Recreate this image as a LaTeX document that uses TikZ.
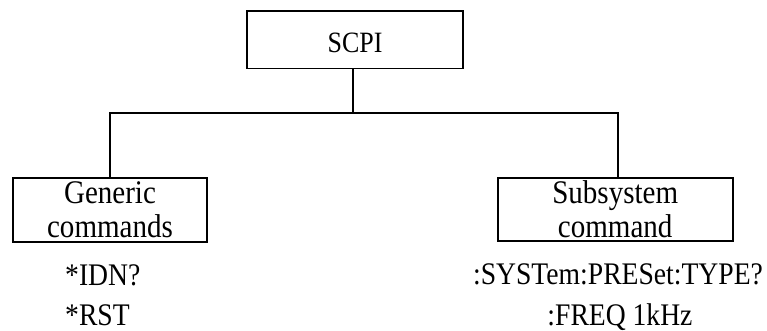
\documentclass[tikz,border=0pt]{standalone}
\usepackage{fontspec}
\setmainfont{Liberation Serif}[FakeStretch=0.88]
\begin{document}
\begin{tikzpicture}[x=1pt,y=-1pt,
  box/.style={draw=black, line width=1.8pt, rectangle, inner sep=0pt, align=center},
  conn/.style={draw=black, line width=1.8pt},
  cmd/.style={inner sep=0pt, font=\fontsize{31.4}{40}\selectfont}]
\useasboundingbox[fill=white] (0,0) rectangle (767,331);
\node[box, minimum width=216pt, minimum height=57.5pt, text height=26.5pt, text depth=0pt,
      font=\fontsize{29.5}{34}\selectfont] (scpi) at (355,39.75) {SCPI};
\node[box, minimum width=194.3pt, minimum height=63.4pt,
      font=\fontsize{33}{34}\selectfont] (gen) at (110,210) {Generic\\commands};
\node[box, minimum width=235.2pt, minimum height=63.5pt,
      font=\fontsize{33}{34}\selectfont] (sub) at (615.2,209.5) {Subsystem\\command};
\coordinate (j) at (352.7,113.3);
\coordinate (jl) at (110,113.3);
\coordinate (jr) at (618.3,113.3);
\draw[conn] (j |- scpi.south) -- (j);
\draw[conn, line cap=rect] (jl) -- (jr);
\draw[conn] (jl) -- (jl |- gen.north);
\draw[conn] (jr) -- (jr |- sub.north);
\node[cmd, anchor=base west] (idn) at (65,285) {*IDN?};
\node[cmd, anchor=base west] (rst) at (65,325) {*RST};
\node[cmd, anchor=base] (syst) at (618,284.5) {:SYSTem:PRESet:TYPE?};
\node[cmd, anchor=base] (freq) at (620,325) {:FREQ 1kHz};
\end{tikzpicture}
\end{document}
